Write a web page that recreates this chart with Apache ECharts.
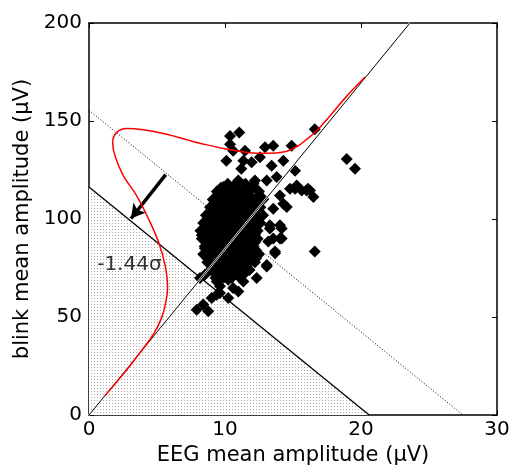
<!DOCTYPE html>
<html>
<head>
<meta charset="utf-8">
<script src="https://cdn.jsdelivr.net/npm/echarts@6/dist/echarts.min.js"></script>
<style>
  html, body { margin: 0; padding: 0; background: #fff; }
  #main { width: 513px; height: 471px; }
</style>
</head>
<body>
<div id="main"></div>
<script>
// axis ticks
var xTicks = [0, 10, 20, 30];
var yTicks = [0, 50, 100, 150, 200];

// regression line through origin, threshold line (-1.44 sigma), mean line (dotted)
var regLine = [[0, 0], [23.6, 200]];
var threshLine = [[0, 116.3], [20.6, 0]];
var meanLine = [[0, 155.5], [27.5, 0]];
var arrowFrom = [5.64, 122.7];
var arrowTo = [3.09, 100.3];
var sigmaLabel = [[0.6, 76.5]];

// red density curve
var curve = [
  [1.18, 10.0], [2.52, 20.9], [3.75, 31.9], [4.73, 41.2], [5.34, 49.6],
  [5.66, 58.1], [5.78, 64.8], [5.59, 76.6], [5.10, 88.5], [4.36, 100.3],
  [3.50, 112.0], [2.52, 122.2], [1.91, 132.3], [1.74, 139.1], [2.04, 144.2],
  [2.77, 146.2], [4.00, 145.5], [5.71, 143.3], [7.43, 140.0], [8.16, 138.7],
  [9.88, 136.0], [11.6, 134.0], [13.07, 133.5], [14.5, 134.5], [15.3, 137.0],
  [16.0, 140.6], [16.74, 145.0], [17.6, 151.7], [18.95, 162.7], [20.3, 172.5]
];

// EEG vs blink amplitude pairs: scattered points
var outliers = [
  [11.05, 144.1], [10.37, 142.4], [10.37, 138.2], [10.6, 134.8], [10.1, 129.8],
  [11.47, 134.8], [11.35, 129.8], [11.96, 129.0], [11.2, 125.6], [12.94, 136.6],
  [13.55, 137.4], [12.57, 131.5], [14.9, 137.4], [14.29, 129.8], [13.43, 127.2],
  [15.15, 124.7], [12.2, 119.6], [13.07, 119.6], [13.8, 121.4], [10.98, 119.6],
  [9.88, 116.3], [9.5, 112.0], [14.78, 115.4], [14.04, 112.0], [12.8, 110.4],
  [16.1, 115.4], [14.29, 107.8], [16.6, 145.8], [18.95, 130.6], [19.56, 125.6],
  [15.15, 115.4], [15.64, 114.6], [16.25, 114.6], [16.5, 111.2], [14.54, 106.2],
  [14.17, 95.2], [14.17, 90.1], [16.6, 83.4], [8.29, 91.8], [8.16, 69.9],
  [8.5, 71.5], [9.14, 73.3], [10.24, 59.7], [9.63, 62.3], [10.98, 63.1],
  [12.33, 69.9], [13.07, 75.8], [13.68, 82.5], [14.04, 90.1], [13.3, 95.2],
  [13.18, 88.5], [11.84, 83.4], [7.92, 53.8], [8.4, 56.4], [9.02, 59.7],
  [9.39, 61.4], [8.77, 53.0], [9.63, 65.7], [10.6, 64.8], [11.35, 68.2],
  [10.24, 69.0], [8.9, 96.9], [8.65, 88.5], [8.53, 85.0], [9.1, 81.7],
  [9.39, 68.2], [13.55, 90.1], [13.3, 96.9], [14.04, 96.9], [13.55, 105.3],
  [15.27, 117.1], [16.0, 114.6], [13.68, 83.4], [13.07, 76.6], [9.75, 115.4]
];
// dense centre of the cloud
var core = [
  [10.2, 118], [10.8, 118], [11.5, 118], [12.1, 118],
  [9.7, 116], [10.3, 116], [10.9, 116], [11.5, 116], [12.2, 116],
  [9.4, 114], [10.0, 114], [10.6, 114], [11.2, 114], [11.8, 114], [12.5, 114],
  [9.4, 112], [10.0, 112], [10.6, 112], [11.2, 112], [11.8, 112], [12.5, 112],
  [9.1, 110], [9.7, 110], [10.3, 110], [10.9, 110], [11.5, 110], [12.1, 110], [12.8, 110],
  [9.2, 108], [9.8, 108], [10.4, 108], [11.0, 108], [11.6, 108], [12.2, 108],
  [8.9, 106], [9.5, 106], [10.1, 106], [10.7, 106], [11.3, 106], [11.9, 106], [12.6, 106],
  [8.9, 104], [9.5, 104], [10.1, 104], [10.7, 104], [11.3, 104], [11.9, 104], [12.5, 104],
  [8.6, 102], [9.2, 102], [9.8, 102], [10.4, 102], [11.0, 102], [11.6, 102], [12.2, 102], [12.8, 102],
  [8.7, 100], [9.3, 100], [9.9, 100], [10.5, 100], [11.1, 100], [11.7, 100], [12.3, 100],
  [8.4, 98], [9.0, 98], [9.6, 98], [10.2, 98], [10.8, 98], [11.4, 98], [12.0, 98], [12.6, 98],
  [8.5, 96], [9.1, 96], [9.7, 96], [10.3, 96], [10.9, 96], [11.5, 96], [12.1, 96],
  [8.2, 94], [8.8, 94], [9.4, 94], [10.0, 94], [10.6, 94], [11.2, 94], [11.8, 94], [12.4, 94],
  [8.6, 92], [9.2, 92], [9.8, 92], [10.4, 92], [11.0, 92], [11.6, 92], [12.2, 92],
  [8.3, 90], [8.9, 90], [9.5, 90], [10.1, 90], [10.7, 90], [11.3, 90], [11.9, 90], [12.4, 90],
  [8.6, 88], [9.2, 88], [9.8, 88], [10.4, 88], [11.0, 88], [11.6, 88], [12.2, 88],
  [8.5, 86], [9.1, 86], [9.7, 86], [10.3, 86], [10.9, 86], [11.5, 86], [12.1, 86],
  [8.7, 84], [9.3, 84], [9.9, 84], [10.5, 84], [11.1, 84], [11.7, 84], [12.3, 84],
  [8.4, 82], [9.0, 82], [9.6, 82], [10.2, 82], [10.8, 82], [11.4, 82], [12.0, 82], [12.5, 82],
  [8.7, 80], [9.3, 80], [9.9, 80], [10.5, 80], [11.1, 80], [11.7, 80], [12.3, 80],
  [8.7, 78], [9.3, 78], [9.9, 78], [10.5, 78], [11.1, 78], [11.7, 78], [12.2, 78],
  [9.2, 76], [9.8, 76], [10.4, 76], [11.0, 76], [11.6, 76],
  [8.9, 74], [9.5, 74], [10.1, 74], [10.7, 74], [11.3, 74], [11.8, 74],
  [9.6, 72], [10.2, 72], [10.8, 72], [11.4, 72],
  [9.3, 70], [9.9, 70], [10.5, 70], [11.1, 70]
];

var dots = document.createElement('canvas');
dots.width = 3; dots.height = 3;
var dctx = dots.getContext('2d');
dctx.fillStyle = '#ffffff';
dctx.fillRect(0, 0, 3, 3);
dctx.fillStyle = '#a8a8a8';
dctx.fillRect(1, 1, 1, 1);

var font = 'DejaVu Sans';
var chart = echarts.init(document.getElementById('main'));

function frameAxis(extra) {
  var a = {
    type: 'value',
    axisLine: { show: true, onZero: false, lineStyle: { color: '#000', width: 1.5 } },
    axisTick: { show: true, inside: true, length: 5, lineStyle: { color: '#000' } },
    axisLabel: { show: false },
    splitLine: { show: false }
  };
  for (var k in extra) a[k] = extra[k];
  return a;
}

var option = {
  animation: false,
  backgroundColor: '#fff',
  grid: { left: 89, right: 16, top: 23, bottom: 53 },
  xAxis: [
    frameAxis({
      min: 0, max: 30, interval: 10, position: 'bottom',
      name: 'EEG mean amplitude (\u03bcV)', nameLocation: 'middle', nameGap: 28,
      nameTextStyle: { fontFamily: font, fontSize: 21, color: '#000' },
      axisLabel: { show: true, fontFamily: font, fontSize: 20, color: '#000', margin: 5,
        formatter: function (v) { return xTicks.indexOf(v) >= 0 ? String(v) : ''; } }
    }),
    frameAxis({ min: 0, max: 30, interval: 10, position: 'top' })
  ],
  yAxis: [
    frameAxis({
      min: 0, max: 200, interval: 50, position: 'left',
      name: 'blink mean amplitude (\u03bcV)', nameLocation: 'middle', nameGap: 50,
      nameTextStyle: { fontFamily: font, fontSize: 21, color: '#000' },
      axisLabel: { show: true, fontFamily: font, fontSize: 20, color: '#000', margin: 7,
        formatter: function (v) { return yTicks.indexOf(v) >= 0 ? String(v) : ''; } }
    }),
    frameAxis({ min: 0, max: 200, interval: 50, position: 'right' })
  ],
  series: [
    {
      type: 'line', data: threshLine, symbol: 'none', silent: true,
      lineStyle: { color: '#000', width: 1.3 },
      areaStyle: { color: { image: dots, repeat: 'repeat' }, opacity: 1 },
      z: 1
    },
    {
      type: 'line', data: meanLine, symbol: 'none', silent: true,
      lineStyle: { color: '#000', width: 1, type: [1, 2] }, z: 2
    },
    {
      type: 'scatter', data: outliers.concat(core), symbol: 'diamond',
      symbolSize: 12, itemStyle: { color: '#000', opacity: 1 }, z: 3
    },
    {
      type: 'line', data: regLine, symbol: 'none', silent: true,
      lineStyle: { color: '#fff', width: 2 }, z: 4
    },
    {
      type: 'line', data: regLine, symbol: 'none', silent: true,
      lineStyle: { color: '#000', width: 1 }, z: 5
    },
    {
      type: 'line', data: curve, symbol: 'none', smooth: 0.4, silent: true,
      lineStyle: { color: '#ff0000', width: 1.5 }, z: 6,
      markLine: {
        silent: true, symbol: ['none', 'arrow'], symbolSize: [12, 14],
        lineStyle: { color: '#000', width: 3.5, type: 'solid' },
        label: { show: false },
        data: [[{ coord: arrowFrom }, { coord: arrowTo }]]
      }
    },
    {
      type: 'scatter', data: sigmaLabel, symbolSize: 0, silent: true, z: 7,
      label: { show: true, position: 'right', distance: 0, formatter: '-1.44\u03c3',
        fontFamily: font, fontSize: 20, color: '#000' }
    }
  ]
};
chart.setOption(option);
</script>
</body>
</html>
